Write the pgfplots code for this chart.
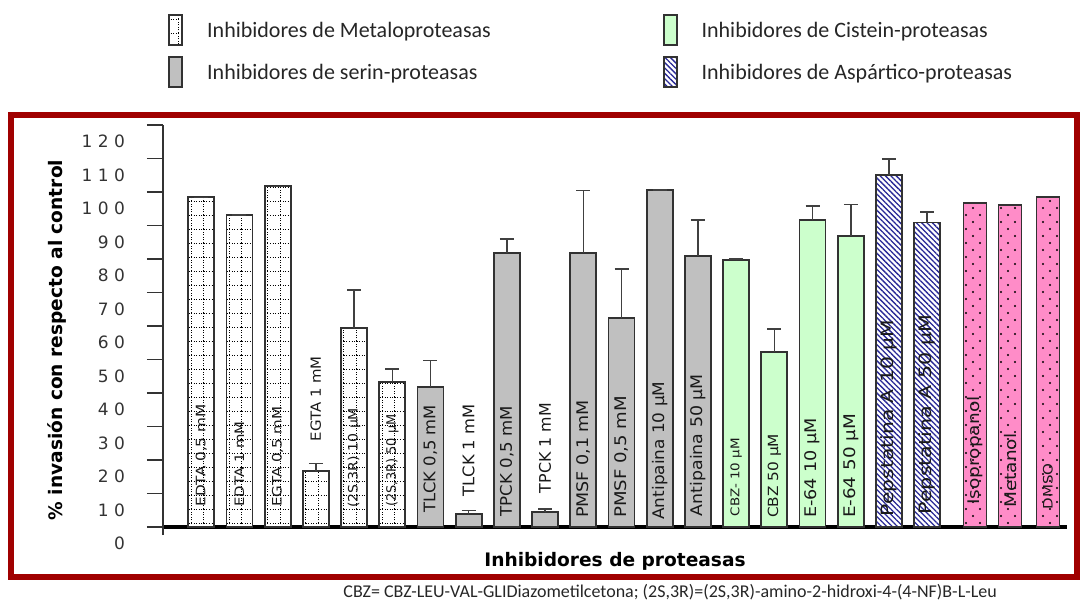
\documentclass[border=0pt]{standalone}
\usepackage{fontspec}
\setmainfont{Carlito}
\newfontfamily\dejavu{DejaVu Sans}
\usepackage{graphicx}
\usepackage{pgfplots}
\pgfplotsset{compat=1.18}
\usepackage{pgfplotstable}
\usetikzlibrary{patterns,patterns.meta}

\definecolor{serin}{RGB}{192,192,192}
\definecolor{cist}{RGB}{204,255,204}
\definecolor{pinkk}{RGB}{255,140,200}
\definecolor{aspblue}{RGB}{40,40,150}
\definecolor{framered}{RGB}{160,0,0}
\definecolor{edge}{RGB}{50,50,50}

\pgfdeclarepatternformonly{dotgrid}{\pgfqpoint{-0.5pt}{-0.5pt}}{\pgfqpoint{7pt}{7.5pt}}{\pgfqpoint{6.367pt}{7pt}}{%
 \pgfsetlinewidth{0.5pt}\pgfsetdash{{0.5pt}{0.8pt}}{0pt}%
 \pgfpathmoveto{\pgfqpoint{0pt}{0pt}}\pgfpathlineto{\pgfqpoint{6.367pt}{0pt}}%
 \pgfpathmoveto{\pgfqpoint{0pt}{0pt}}\pgfpathlineto{\pgfqpoint{0pt}{7pt}}%
 \pgfusepath{stroke}}
\pgfdeclarepatternformonly{pdots}{\pgfqpoint{-1pt}{-1pt}}{\pgfqpoint{8pt}{8pt}}{\pgfqpoint{7pt}{7pt}}{%
 \pgfpathcircle{\pgfqpoint{0pt}{0pt}}{0.55pt}%
 \pgfpathcircle{\pgfqpoint{3.5pt}{3.5pt}}{0.55pt}%
 \pgfusepath{fill}}

\newcommand\lab[2]{\resizebox{#1}{\height}{#2}}

\pgfplotstableread{
x y e
1 98.4 0
2 93.1 0
3 101.7 0
4 16.7 2.3
5 59.3 11.4
6 43.4 3.7
}\metalo
\pgfplotstableread{
x y e
7 41.9 7.8
8 3.8 1.2
9 81.8 4.1
10 4.4 1.0
11 81.8 18.6
12 62.3 14.7
13 100.6 0
14 80.9 10.7
}\serin
\pgfplotstableread{
x y e
15 79.7 0.3
16 52.3 6.8
17 91.6 4.2
18 86.9 9.4
}\cistein
\pgfplotstableread{
x y e
19 105.1 4.8
20 90.9 3.2
}\aspartico
\pgfplotstableread{
x y
21.25 96.8
22.17 96.1
23.16 98.4
}\solvent

\begin{document}
\begin{tikzpicture}
\path[use as bounding box] (0pt,0pt) rectangle (540pt,303.5pt);
\draw[framered, line width=2.8pt] (5.5pt,246pt) rectangle (538.5pt,15pt);
\node[anchor=west, inner sep=0pt, text=black!85, font=\fontsize{9}{10}\selectfont] at (171.5pt,7.5pt) {CBZ= CBZ-LEU-VAL-GLIDiazometilcetona; (2S,3R)=(2S,3R)-amino-2-hidroxi-4-(4-NF)B-L-Leu};
\begin{axis}[
  at={(81.5pt,40pt)}, anchor=south west,
  scale only axis, width=452pt, height=201pt,
  xmin=0, xmax=23.66, ymin=0, ymax=120,
  axis x line*=bottom, axis y line*=left,
  axis line style={-},
  x axis line style={line width=1.6pt, black},
  y axis line style={line width=0.7pt, black!80, shorten <=-4pt},
  xtick=\empty,
  ytick={0,10,...,120},
  yticklabels={0,1 0,2 0,3 0,4 0,5 0,6 0,7 0,8 0,9 0,1 0 0,1 1 0,1 2 0},
  tick align=outside, major tick length=8pt,
  ytick style={line width=0.7pt, black!80},
  yticklabel style={font=\dejavu\fontsize{8.5}{8.5}\selectfont, text=black!80, yshift=-8.4pt, xshift=-7.5pt, anchor=east},
  clip=false,
  ylabel={\% invasión con respecto al control},
  ylabel style={at={(axis description cs:-0.117,0.465)}, anchor=center, font=\dejavu\bfseries\fontsize{9.3}{10}\selectfont},
  xlabel={Inhibidores de proteasas},
  xlabel style={at={(axis description cs:0.5,-0.0846)}, anchor=center, font=\dejavu\bfseries\fontsize{9.3}{10}\selectfont},
  bb/.style={ybar, bar width=13pt, bar shift=0pt, draw=edge, line width=0.9pt},
  errs/.style={error bars/.cd, y dir=plus, y explicit,
     error bar style={line width=0.75pt, draw=black!75},
     error mark options={rotate=90, line width=0.75pt, mark size=3.5pt, draw=black!75}},
  legend image code/.code={\draw[#1,/tikz/.cd,line width=0.9pt] (0pt,-7pt) rectangle (6.5pt,8pt);},
  legend columns=2, transpose legend, legend cell align=left,
  legend style={at={(axis description cs:0.0055,1.276)}, anchor=north west, draw=none, fill=none,
     inner sep=0pt, font=\fontsize{11}{12}\selectfont, text=black!85, row sep=5pt,
     /tikz/every odd column/.append style={column sep=10pt},
     /tikz/every even column/.append style={column sep=84pt}},
]
\addplot[bb, fill=white, postaction={pattern=dotgrid}, errs] table[x=x,y=y,y error=e] {\metalo};
\addlegendentry{Inhibidores de Metaloproteasas}
\addplot[bb, fill=serin, errs] table[x=x,y=y,y error=e] {\serin};
\addlegendentry{Inhibidores de serin-proteasas}
\addplot[bb, fill=cist, errs] table[x=x,y=y,y error=e] {\cistein};
\addlegendentry{Inhibidores de Cistein-proteasas}
\addplot[bb, fill=white, postaction={pattern={Lines[angle=-45,distance=1.9pt,line width=0.65pt]}, pattern color=aspblue}, errs] table[x=x,y=y,y error=e] {\aspartico};
\addlegendentry{Inhibidores de Aspártico-proteasas}
\addplot[bb, bar width=11.5pt, fill=pinkk, postaction={pattern=pdots}, forget plot] table[x=x,y=y] {\solvent};

\tikzset{bl/.style={rotate=90, anchor=west, inner sep=0pt, text=black!90, font=\dejavu\fontsize{8}{8}\selectfont}}
\node[bl, font=\dejavu\fontsize{6.5}{7}\selectfont] at (axis cs:1,6.0) {\lab{51pt}{EDTA 0,5 mM}};
\node[bl, font=\dejavu\fontsize{6.5}{7}\selectfont] at (axis cs:2,6.0) {\lab{42.5pt}{EDTA 1 mM}};
\node[bl, font=\dejavu\fontsize{6.5}{7}\selectfont] at (axis cs:3,6.0) {\lab{50pt}{EGTA 0,5 mM}};
\node[bl, font=\dejavu\fontsize{7}{7}\selectfont] at (axis cs:4,25.5) {\lab{42.5pt}{EGTA 1 mM}};
\node[bl, font=\dejavu\fontsize{6.5}{7}\selectfont] at (axis cs:5,5.6) {\lab{50pt}{(2S,3R) 10 µM}};
\node[bl, font=\dejavu\fontsize{6.5}{7}\selectfont] at (axis cs:6,6.0) {\lab{46pt}{(2S,3R) 50 µM}};
\node[bl] at (axis cs:7,4.1) {\lab{54pt}{TLCK 0,5 mM}};
\node[bl] at (axis cs:8,9.0) {\lab{46pt}{TLCK 1 mM}};
\node[bl] at (axis cs:9,3.1) {\lab{55pt}{TPCK 0,5 mM}};
\node[bl] at (axis cs:10,10.0) {\lab{45pt}{TPCK 1 mM}};
\node[bl] at (axis cs:11,2.6) {\lab{59pt}{PMSF 0,1 mM}};
\node[bl] at (axis cs:12,2.6) {\lab{61pt}{PMSF 0,5 mM}};
\node[bl] at (axis cs:13,2.1) {\lab{69pt}{Antipaina 10 µM}};
\node[bl] at (axis cs:14,3.1) {\lab{71pt}{Antipaina 50 µM}};
\node[bl, font=\dejavu\fontsize{6}{6}\selectfont] at (axis cs:15,3.1) {\lab{39pt}{CBZ- 10 µM}};
\node[bl, font=\dejavu\fontsize{7}{7}\selectfont] at (axis cs:16,2.6) {\lab{42pt}{CBZ 50 µM}};
\node[bl] at (axis cs:17,2.6) {\lab{50pt}{E-64 10 µM}};
\node[bl] at (axis cs:18,2.6) {\lab{52pt}{E-64 50 µM}};
\node[bl, font=\dejavu\fontsize{8.5}{8.5}\selectfont] at (axis cs:19,3.1) {\lab{98pt}{Pepstatina A 10 µM}};
\node[bl, font=\dejavu\fontsize{8.5}{8.5}\selectfont] at (axis cs:20,3.6) {\lab{100pt}{Pepstatina A 50 µM}};
\node[bl, font=\dejavu\fontsize{8}{8}\selectfont] at (axis cs:21.25,6.6) {\lab{54pt}{Isopropanol}};
\node[bl, font=\dejavu\fontsize{8}{8}\selectfont] at (axis cs:22.17,5.6) {\lab{37pt}{Metanol}};
\node[bl, font=\dejavu\fontsize{6.5}{7}\selectfont] at (axis cs:23.16,5.1) {\lab{23pt}{DMSO}};
\end{axis}
\end{tikzpicture}
\end{document}
